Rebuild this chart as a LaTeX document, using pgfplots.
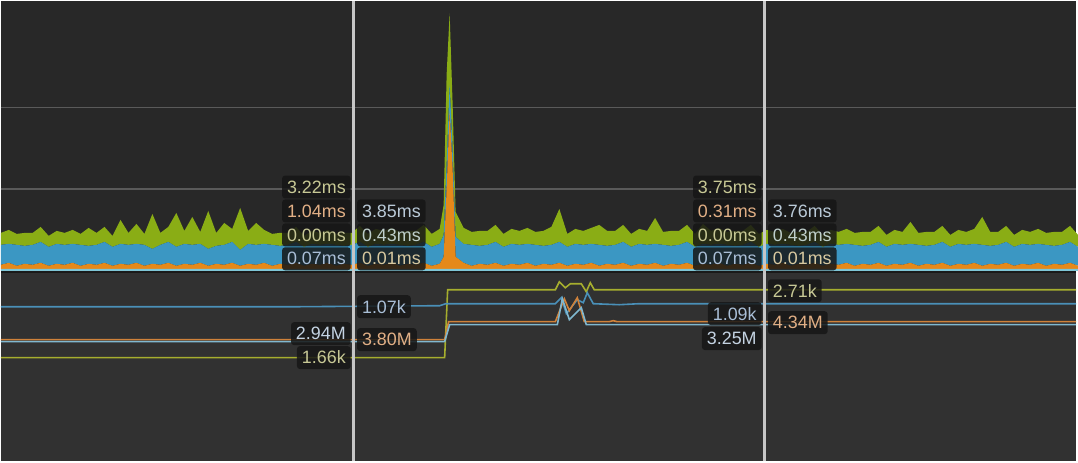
\documentclass[border=0pt]{standalone}
\usepackage{fontspec}
\setmainfont{Liberation Sans}
\usepackage{pgfplots}
\usepackage{pgfplotstable}
\pgfplotsset{compat=1.18}

\definecolor{bgtop}{HTML}{282828}
\definecolor{bgbot}{HTML}{313131}
\definecolor{sep}{HTML}{1A1A1A}
\definecolor{gridc}{HTML}{5A5A5A}
\definecolor{cursor}{HTML}{C6C6C6}
\definecolor{cgreen}{HTML}{8AAD15}
\definecolor{cblue}{HTML}{3B97C3}
\definecolor{corange}{HTML}{E5891A}
\definecolor{ccyan}{HTML}{7FC6D6}
\definecolor{lolive}{HTML}{A6AE2E}
\definecolor{lblue}{HTML}{4A90B8}
\definecolor{lorange}{HTML}{D0823A}
\definecolor{lcyan}{HTML}{80B8D0}
\definecolor{tolive}{HTML}{C7C895}
\definecolor{tpeach}{HTML}{E1AF85}
\definecolor{tblue}{HTML}{A9BED6}
\definecolor{tgray}{HTML}{BACAD8}
\definecolor{tpale}{HTML}{BFCFCB}
\definecolor{ttan}{HTML}{D8C9A0}
\definecolor{twhite}{HTML}{C4D3E2}
\definecolor{boxc}{HTML}{161616}

% CPU frame data: x, then layer heights in px (cyan, orange, blue, green)
\pgfplotstableread{
x c o b g
0 2 4 20 12
8 2 6 19 14
16 2 3 21 11
24 2 5 18 13
32 2 4 20 12
40 2 6 21 15
48 2 3 19 11
56 2 5 20 13
64 2 4 20 12
72 2 6 19 14
80 2 3 21 11
88 2 5 18 18
96 2 4 20 12
104 2 6 21 15
112 2 3 19 11
120 2 5 20 24
128 2 4 20 12
136 2 6 19 20
144 2 3 21 11
152 2 5 15 35
160 2 4 20 12
168 2 6 21 15
176 2 3 19 34
184 2 5 20 13
192 2 4 20 28
200 2 6 19 12
208 2 3 17 38
216 2 5 18 13
224 2 4 20 22
232 2 6 21 13
240 2 3 16 42
248 2 5 20 13
256 2 4 20 22
264 2 6 19 14
272 2 3 21 11
280 2 5 18 13
288 2 4 20 12
296 2 6 21 15
304 2 3 19 11
312 2 5 20 13
320 2 4 20 12
328 2 6 19 14
336 2 3 21 11
344 2 5 18 13
352 2 4 20 12
360 2 6 21 16
368 2 3 19 13
376 2 5 20 15
384 2 4 20 14
392 2 6 19 16
400 2 3 21 13
408 2 5 18 15
416 2 4 20 14
424 2 6 21 17
432 2 3 19 13
440 2 5 20 15
444 2 12 22 30
447 2 80 25 90
450 2 158 27 71
453 2 100 20 45
456 2 12 20 25
464 2 6 19 16
472 2 3 21 13
480 2 5 18 15
488 2 4 20 14
496 2 6 21 17
504 2 3 19 13
512 2 5 20 15
520 2 4 20 14
528 2 6 19 16
536 2 3 21 13
544 2 5 18 15
552 2 4 20 18
560 2 6 21 33
568 2 3 19 13
576 2 5 20 15
584 2 4 20 14
592 2 6 19 16
600 2 3 21 20
608 2 5 18 15
616 2 4 20 14
624 2 6 21 17
632 2 3 19 13
640 2 5 20 15
648 2 4 20 14
656 2 6 19 26
664 2 3 21 13
672 2 5 18 15
680 2 4 20 14
688 2 6 21 17
696 2 3 19 13
704 2 5 20 20
712 2 4 20 14
720 2 6 19 16
728 2 3 21 13
736 2 5 18 15
744 2 4 20 14
752 2 6 21 17
760 2 3 19 13
768 2 5 20 14
776 2 4 20 13
784 2 6 19 15
792 2 3 21 12
800 2 5 18 14
808 2 4 20 13
816 2 6 21 16
824 2 3 19 12
832 2 5 20 14
840 2 4 20 13
848 2 6 19 15
856 2 3 21 12
864 2 5 18 14
872 2 4 20 13
880 2 6 21 16
888 2 3 19 12
896 2 5 20 14
904 2 4 20 13
912 2 6 19 22
920 2 3 21 12
928 2 5 18 14
936 2 4 20 13
944 2 6 21 16
952 2 3 19 12
960 2 5 20 14
968 2 4 20 13
976 2 6 19 15
984 2 3 21 28
992 2 5 18 14
1000 2 4 20 13
1008 2 6 21 16
1016 2 3 19 12
1024 2 5 20 14
1032 2 4 20 13
1040 2 6 19 15
1048 2 3 21 12
1056 2 5 18 14
1064 2 4 20 13
1072 2 6 21 16
1080 2 3 19 12
}\cpudata

\tikzset{lbl/.style={fill=boxc, fill opacity=0.85, text opacity=1,
  rounded corners=3bp, inner xsep=5bp, inner ysep=0bp,
  minimum height=23bp, font=\fontsize{18}{21}\selectfont}}

\begin{document}
\begin{tikzpicture}
% backgrounds, separator, grid lines
\fill[bgbot] (0,0) rectangle (1078bp,191bp);
\fill[bgtop] (0,191bp) rectangle (1078bp,461bp);
\fill[sep] (0,189bp) rectangle (1078bp,191bp);
\draw[gridc, line width=1.2bp] (0,355bp) -- (1078bp,355bp);
\draw[gridc, line width=1.2bp] (0,273bp) -- (1078bp,273bp);

% CPU usage (stacked areas)
\begin{axis}[at={(0,191bp)}, anchor=south west,
  width=1078bp, height=270bp, scale only axis,
  xmin=0, xmax=1078, ymin=0, ymax=270,
  axis lines=none, ticks=none, clip=false, stack plots=y]
\addplot[draw=none, fill=ccyan] table[x=x, y=c] {\cpudata} \closedcycle;
\addplot[draw=none, fill=corange] table[x=x, y=o] {\cpudata} \closedcycle;
\addplot[draw=none, fill=cblue] table[x=x, y=b] {\cpudata} \closedcycle;
\addplot[draw=none, fill=cgreen] table[x=x, y=g] {\cpudata} \closedcycle;
\end{axis}

% memory lines (y in image rows)
\begin{axis}[at={(0,0)}, anchor=south west,
  width=1078bp, height=191bp, scale only axis,
  xmin=0, xmax=1078, ymin=270, ymax=461, y dir=reverse,
  axis lines=none, ticks=none, clip=false]
\addplot[lolive, line width=1.6bp] coordinates {(0,357) (445,357) (448,289) (556,289) (560,281) (566,287) (571,283) (582,283) (587,291) (591,282) (595,289) (1078,289)};
\addplot[lblue, line width=1.6bp] coordinates {(0,306) (300,306) (440,305) (446,303) (556,303) (562,297) (567,313) (578,299) (584,302) (588,292) (594,303) (620,304) (640,303) (1078,303)};
\addplot[lorange, line width=1.6bp] coordinates {(0,339) (445,339) (449,321) (556,321) (565,298) (570,310) (578,297) (585,321) (610,321) (614,320) (618,321) (1078,321)};
\addplot[lcyan, line width=1.6bp] coordinates {(0,341) (445,341) (450,324) (558,324) (563,298) (570,319) (582,307) (587,324) (1078,324)};

% CPU labels (image rows, drawn over the areas)
\node[lbl, anchor=east, text=tolive] at (axis cs:351,186) {3.22ms};
\node[lbl, anchor=east, text=tpeach] at (axis cs:351,210) {1.04ms};
\node[lbl, anchor=east, text=tolive] at (axis cs:351,234) {0.00ms};
\node[lbl, anchor=east, text=tblue] at (axis cs:351,258) {0.07ms};
\node[lbl, anchor=west, text=tgray] at (axis cs:357,210) {3.85ms};
\node[lbl, anchor=west, text=tpale] at (axis cs:357,234) {0.43ms};
\node[lbl, anchor=west, text=ttan] at (axis cs:357,258) {0.01ms};
\node[lbl, anchor=east, text=tolive] at (axis cs:763,186) {3.75ms};
\node[lbl, anchor=east, text=tpeach] at (axis cs:763,210) {0.31ms};
\node[lbl, anchor=east, text=tolive] at (axis cs:763,234) {0.00ms};
\node[lbl, anchor=east, text=tblue] at (axis cs:763,258) {0.07ms};
\node[lbl, anchor=west, text=tgray] at (axis cs:769,210) {3.76ms};
\node[lbl, anchor=west, text=tpale] at (axis cs:769,234) {0.43ms};
\node[lbl, anchor=west, text=ttan] at (axis cs:769,258) {0.01ms};

% memory labels
\node[lbl, anchor=west, text=tblue] at (axis cs:357,306) {1.07k};
\node[lbl, anchor=east, text=twhite] at (axis cs:351,333) {2.94M};
\node[lbl, anchor=west, text=tpeach] at (axis cs:357,339) {3.80M};
\node[lbl, anchor=east, text=tolive] at (axis cs:351,357) {1.66k};
\node[lbl, anchor=west, text=tolive] at (axis cs:769,290) {2.71k};
\node[lbl, anchor=east, text=tblue] at (axis cs:763,313) {1.09k};
\node[lbl, anchor=west, text=tpeach] at (axis cs:769,322) {4.34M};
\node[lbl, anchor=east, text=twhite] at (axis cs:763,338) {3.25M};
\end{axis}

% cursors
\draw[cursor, line width=3bp] (354bp,0) -- (354bp,461bp);
\draw[cursor, line width=3bp] (766bp,0) -- (766bp,461bp);
\end{tikzpicture}
\end{document}
